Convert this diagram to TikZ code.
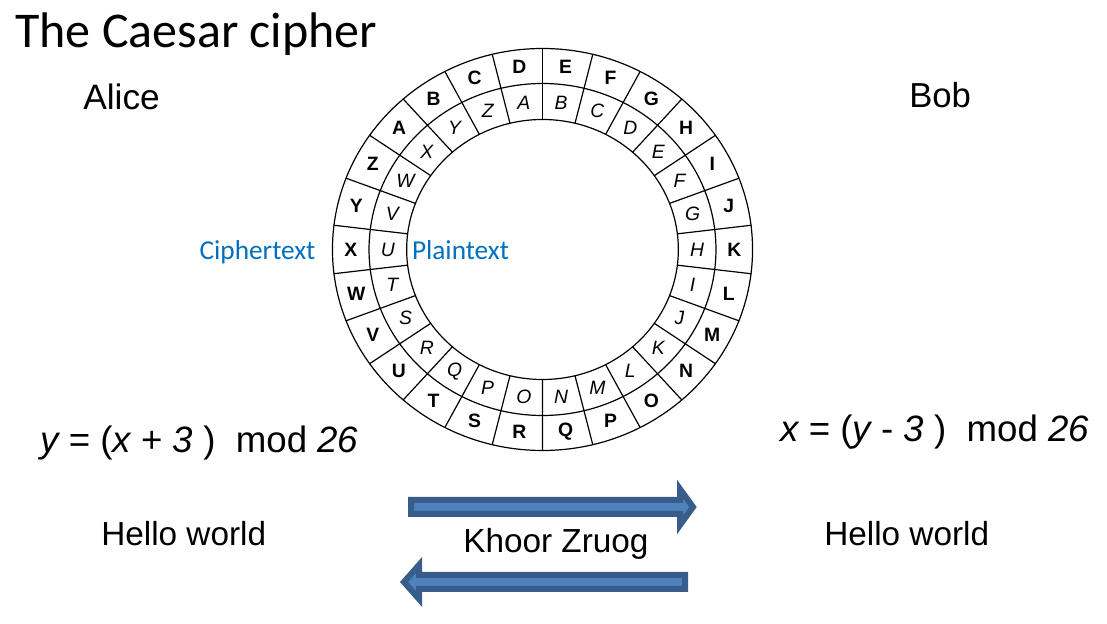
\documentclass[tikz,border=0pt]{standalone}
\usepackage{fontspec}
\setmainfont{Liberation Sans}
\newfontfamily\slidefont{Carlito}
\definecolor{labelblue}{HTML}{0070C0}
\definecolor{arrowfill}{HTML}{4F81BD}
\definecolor{arrowline}{HTML}{385D8A}

\begin{document}
\begin{tikzpicture}[line cap=round,line join=round,x=0.75pt,y=0.75pt,
    bigtext/.style={font=\fontsize{25}{30}\selectfont,inner sep=0pt,anchor=base west},
    eqtext/.style={font=\fontsize{27.5}{32}\selectfont,inner sep=0pt,anchor=base west},
    titletext/.style={font=\slidefont\fontsize{37.5}{44}\selectfont,inner sep=0pt,anchor=base west},
    sidelabel/.style={font=\slidefont\fontsize{20.5}{24}\selectfont,text=labelblue,inner sep=0pt,anchor=base},
    cipherletter/.style={font=\bfseries\fontsize{14.5}{16}\selectfont,inner sep=0pt},
    plainletter/.style={font=\itshape\fontsize{14.5}{16}\selectfont,inner sep=0pt},
    blockarrow/.style={fill=arrowfill,draw=arrowline,line width=4.5pt,line join=miter}]
      \useasboundingbox (0,0) rectangle (1107,624);

      % the cipher wheel
      \begin{scope}[shift={(542.5,374.5)},xscale=1.045,line width=0.9pt]
        \draw (0,0) circle (201);
        \draw (0,0) circle (166);
        \draw (0,0) circle (130);
        \foreach \k in {0,...,25}{
          \draw ({90+13.846*\k}:130) -- ({90+13.846*\k}:201);
        }
        \foreach \c/\p [count=\i from 0] in {D/A,C/Z,B/Y,A/X,Z/W,Y/V,X/U,W/T,V/S,U/R,T/Q,S/P,R/O,Q/N,P/M,O/L,N/K,M/J,L/I,K/H,J/G,I/F,H/E,G/D,F/C,E/B}{
          \node[cipherletter] (c\i) at ({96.923+13.846*\i}:183.5) {\c};
          \node[plainletter] (p\i) at ({96.923+13.846*\i}:148) {\p};
        }
      \end{scope}

      \node[titletext] (title) at (15,576) {The Caesar cipher};
      \node[bigtext,font=\fontsize{26.5}{30}\selectfont] (alice) at (83,514) {Alice};
      \node[bigtext,font=\fontsize{26}{30}\selectfont] (bob) at (909,516) {Bob};

      \node[sidelabel] (cipher) at (257.5,364) {Ciphertext};
      \node[sidelabel] (plain) at (460.5,364) {Plaintext};

      \node[eqtext] (enc) at (40,171) {\itshape y\upshape{} = (\itshape x\upshape{} + \itshape 3\upshape{} )\ \ mod \itshape 26};
      \node[eqtext] (dec) at (780,182) {\itshape x\upshape{} = (\itshape y\upshape{} - \itshape 3\upshape{} )\ \ mod \itshape 26};

      \node[bigtext] (msgA) at (101,78) {Hello world};
      \node[bigtext] (msgB) at (824,78) {Hello world};
      \node[bigtext] (secret) at (463,71) {Khoor Zruog};

      % block arrows
      \draw[blockarrow] (411,110) -- (680,110) -- (680,99) -- (693,117) -- (680,135) -- (680,124) -- (411,124) -- cycle;
      \draw[blockarrow] (685,35) -- (419,35) -- (419,25) -- (404,42) -- (419,59) -- (419,49) -- (685,49) -- cycle;
    \end{tikzpicture}
\end{document}
